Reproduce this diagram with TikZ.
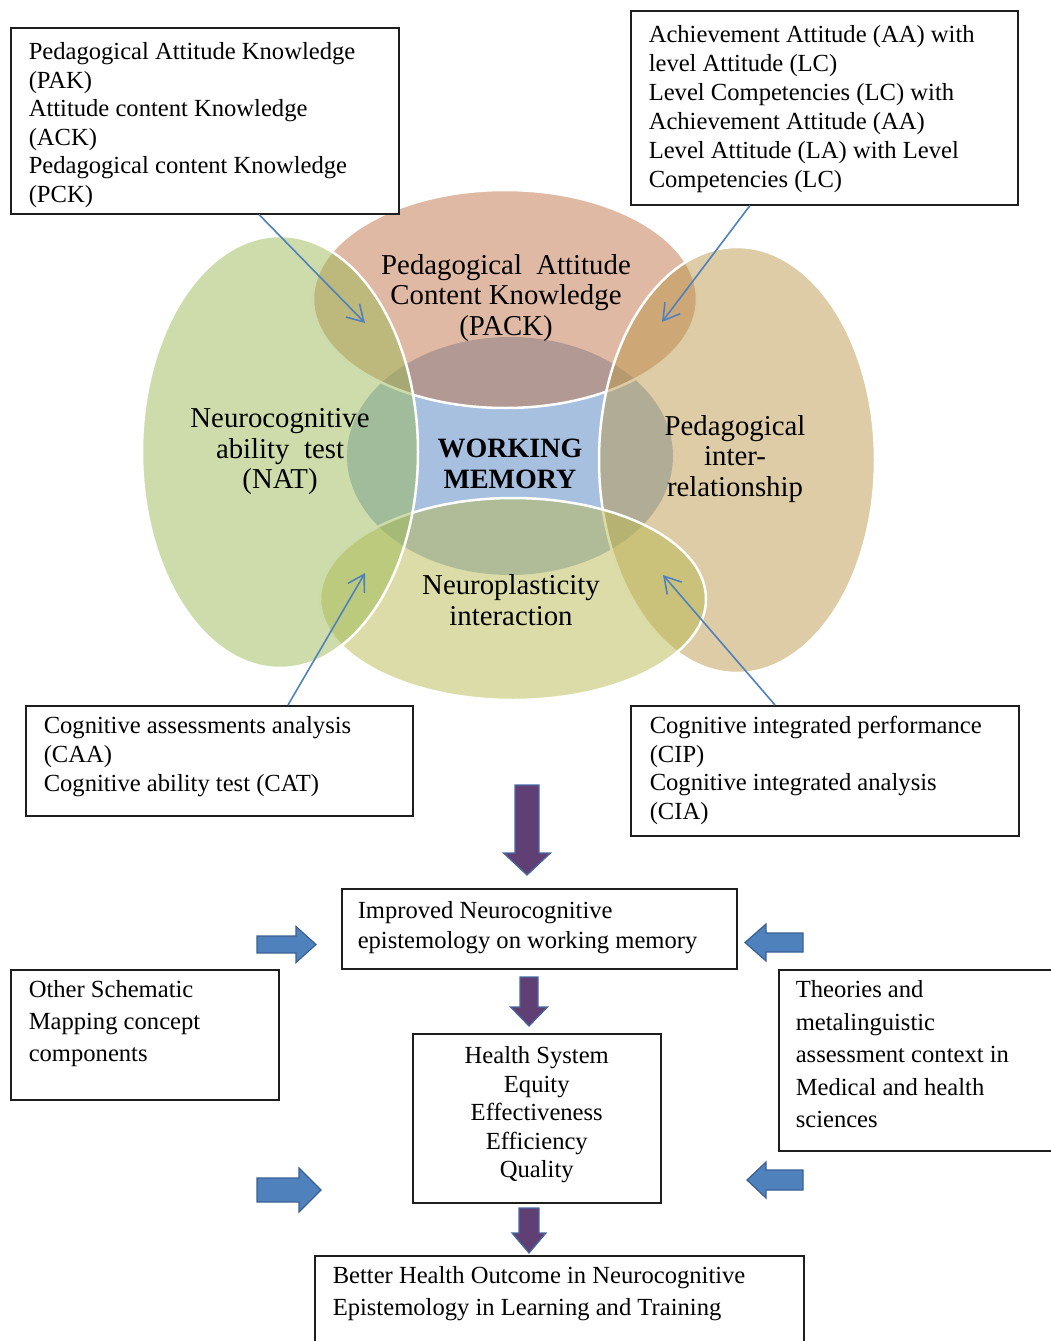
\documentclass[tikz,border=0pt]{standalone}
\usepackage{fontspec}
\setmainfont{Liberation Serif}
\usepackage{tikz}
\usetikzlibrary{arrows.meta, calc}
\definecolor{wmblue}{RGB}{168,192,224}
\definecolor{packpink}{RGB}{191,115,71}
\definecolor{pirtan}{RGB}{187,153,75}
\definecolor{npiyellow}{RGB}{185,185,81}
\definecolor{natgreen}{RGB}{155,185,85}
\definecolor{linkblue}{RGB}{79,129,189}
\definecolor{sidefill}{RGB}{79,129,189}
\definecolor{sideedge}{RGB}{58,96,146}
\definecolor{downfill}{RGB}{96,64,116}
\definecolor{downedge}{RGB}{72,104,162}
\definecolor{boxline}{RGB}{30,30,30}
\newcommand{\cell}[3]{\parbox[t][#2][t]{#1}{\raggedright\strut#3}}

\begin{document}
\begin{tikzpicture}[x=1pt, y=-1pt,
    venn/.style={draw=white, line width=2.5pt, fill opacity=0.5},
    venntext/.style={align=center, font=\fontsize{28.8}{30.5}\selectfont},
    infobox/.style={draw=boxline, line width=1.5pt, fill=white, anchor=north west,
        font=\fontsize{24.6}{#1}\selectfont},
    link/.style={draw=linkblue, line width=1.6pt, -{Straight Barb[length=16pt, width=19pt]}},
    fatdown/.style={draw=downedge, fill=downfill, line width=1.2pt},
    fatside/.style={draw=sideedge, fill=sidefill, line width=1.2pt}]
    \useasboundingbox (0,0) rectangle (1051,1341);

    % the venn part
    \fill[wmblue] (510,456) ellipse [x radius=163pt, y radius=119pt];
    \path[venn, fill=packpink] (505,299) ellipse [x radius=192pt, y radius=109pt];
    \path[venn, fill=pirtan] (737,460) ellipse [x radius=138pt, y radius=213pt];
    \path[venn, fill=npiyellow] (513,599) ellipse [x radius=193pt, y radius=101pt];
    \path[venn, fill=natgreen] (280,452) ellipse [x radius=138pt, y radius=216pt];

    \node[venntext] (pack) at (506,298) {Pedagogical\ \ Attitude\\Content Knowledge\\(PACK)};
    \node[venntext] (nat) at (280,452) {Neurocognitive\\ability\ \ test\\(NAT)};
    \node[venntext, font=\bfseries\fontsize{28}{31}\selectfont] (wm) at (510,464) {WORKING\\MEMORY};
    \node[venntext] (pir) at (735,459) {Pedagogical\\inter-\\relationship};
    \node[venntext] (npi) at (511,600) {Neuroplasticity\\interaction};

    % boxes
    \node[infobox=28.5, inner xsep=18pt, inner ysep=12pt] (pak) at (10,27)
        {\cell{352pt}{162pt}{Pedagogical Attitude Knowledge\\(PAK)\\Attitude content Knowledge\\(ACK)\\Pedagogical content Knowledge\\(PCK)}};
    \node[infobox=29, inner xsep=18pt, inner ysep=11.5pt] (aal) at (630,10)
        {\cell{351pt}{171pt}{Achievement Attitude (AA) with\\level Attitude (LC)\\Level Competencies (LC) with\\Achievement Attitude (AA)\\Level Attitude (LA) with Level\\Competencies (LC)}};
    \node[infobox=29, inner xsep=18pt, inner ysep=7.7pt] (caa) at (25,705)
        {\cell{351pt}{94.6pt}{Cognitive assessments analysis\\(CAA)\\Cognitive ability test (CAT)}};
    \node[infobox=28.5, inner xsep=19pt, inner ysep=8pt] (cip) at (630,705)
        {\cell{350pt}{114pt}{Cognitive integrated performance\\(CIP)\\Cognitive integrated analysis\\(CIA)}};
    \node[infobox=30, inner xsep=16pt, inner ysep=9pt] (imp) at (341,888)
        {\cell{363pt}{62pt}{Improved Neurocognitive\\epistemology on working memory}};
    \node[infobox=32, inner xsep=18pt, inner ysep=5.6pt] (osm) at (10,969)
        {\cell{232pt}{118.8pt}{Other Schematic\\Mapping concept\\components}};
    \node[infobox=32.5, inner xsep=17pt, inner ysep=5.3pt] (thr) at (778,969)
        {\cell{256pt}{170.5pt}{Theories and\\metalinguistic\\assessment context in\\Medical and health\\sciences}};
    \node[infobox=28.5, inner xsep=10pt, inner ysep=10pt] (hs) at (412,1033)
        {\cell{228pt}{149pt}{\centering Health System\\Equity\\Effectiveness\\Efficiency\\Quality}};
    \node[infobox=31.5, inner xsep=18pt, inner ysep=6pt] (bho) at (314,1255)
        {\cell{453pt}{88pt}{Better Health Outcome in Neurocognitive\\Epistemology in Learning and Training}};

    % thin arrows into the overlaps
    \coordinate (pakTip) at (365,323);
    \coordinate (aalTip) at (662,322);
    \coordinate (caaTip) at (365,573);
    \coordinate (cipTip) at (663,575);
    \draw[link] ($(pak.south west)+(249,0)$) -- (pakTip);
    \draw[link] ($(aal.south west)+(120,0)$) -- (aalTip);
    \draw[link] ($(caa.north west)+(263,0)$) -- (caaTip);
    \draw[link] ($(cip.north west)+(145,0)$) -- (cipTip);

    % block arrows: x / tail / head start / tip / half shaft / half head
    \foreach \x/\ya/\yh/\yt/\s/\h in {
        527/785/853/875/12/23.5,
        529/977/1007/1026/9/18.5,
        529/1208/1233/1253/10/17}
        \draw[fatdown] (\x-\s,\ya) -- (\x+\s,\ya) -- (\x+\s,\yh) -- (\x+\h,\yh)
            -- (\x,\yt) -- (\x-\h,\yh) -- (\x-\s,\yh) -- cycle;

    \foreach \xa/\xh/\xt/\y/\s/\h in {
        257/296/316/944.5/8.5/18,
        803/766/745/942.5/9.5/18.5,
        257/299/321/1190/12/22,
        803/766/747/1180/10/18}
        \draw[fatside] (\xa,\y-\s) -- (\xh,\y-\s) -- (\xh,\y-\h) -- (\xt,\y)
            -- (\xh,\y+\h) -- (\xh,\y+\s) -- (\xa,\y+\s) -- cycle;
\end{tikzpicture}
\end{document}
